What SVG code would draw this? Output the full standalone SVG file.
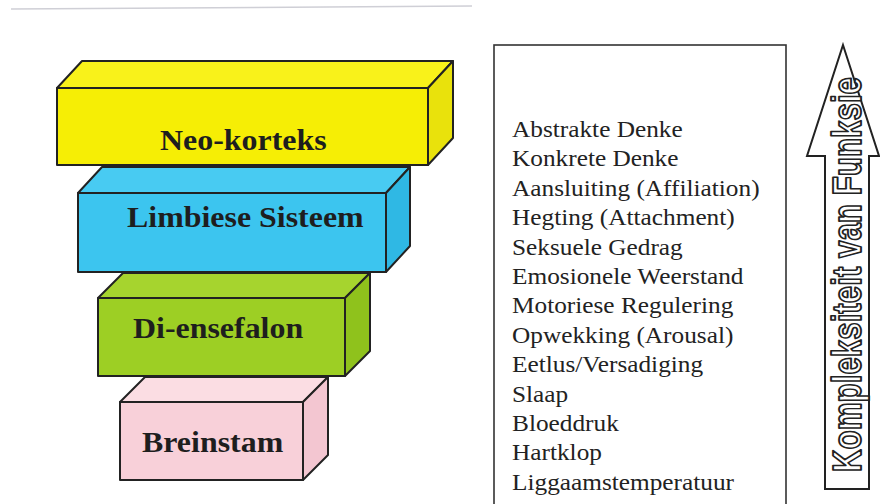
<svg xmlns="http://www.w3.org/2000/svg" width="880" height="504" viewBox="0 0 880 504">
<style>
.edge{stroke:#222;stroke-width:2;stroke-linejoin:round}
.lbl{font-weight:bold;font-size:28.5px;fill:#1e1e1e}
.li{font-size:22.6px;fill:#222}
.arr{font-weight:bold;font-size:32px;fill:#fff;stroke:#222;stroke-width:1.5;stroke-linejoin:round}
</style>
<rect width="880" height="504" fill="#fff"/>
<line x1="11" y1="9" x2="472" y2="6" stroke="#cfcfd6" stroke-width="1.5"/>

<g id="breinstam">
<polygon class="edge" fill="#fbdde3" points="120,402 145,377 328,377 303,402"/>
<polygon class="edge" fill="#f3c6d1" points="303,402 328,377 328,455 303,480"/>
<rect class="edge" fill="#f8d0d9" x="120" y="402" width="183" height="78"/>
<text class="lbl" font-family="Liberation Serif, DejaVu Serif, serif" transform="translate(142,452) scale(1.12,1)">Breinstam</text>
</g>

<g id="di-ensefalon">
<polygon class="edge" fill="#a6d42e" points="98,298 123,273 370,273 345,298"/>
<polygon class="edge" fill="#8fc21c" points="345,298 370,273 370,351 345,376"/>
<rect class="edge" fill="#9dcf24" x="98" y="298" width="247" height="78"/>
<text class="lbl" font-family="Liberation Serif, DejaVu Serif, serif" transform="translate(133,338) scale(1.12,1)">Di-ensefalon</text>
</g>

<g id="limbiese-sisteem">
<polygon class="edge" fill="#48cbf2" points="78,193 102,167 410,167 386,193"/>
<polygon class="edge" fill="#2fb8e4" points="386,193 410,167 410,246 386,272"/>
<rect class="edge" fill="#3cc5ef" x="78" y="193" width="308" height="79"/>
<text class="lbl" font-family="Liberation Serif, DejaVu Serif, serif" transform="translate(127,227) scale(1.12,1)">Limbiese Sisteem</text>
</g>

<g id="neo-korteks">
<polygon class="edge" fill="#f9f21a" points="57,88 82,61 453,61 428,88"/>
<polygon class="edge" fill="#e9e20c" points="428,88 453,61 453,138 428,165"/>
<rect class="edge" fill="#f6ee05" x="57" y="88" width="371" height="77"/>
<text class="lbl" font-family="Liberation Serif, DejaVu Serif, serif" transform="translate(160,150) scale(1.12,1)">Neo-korteks</text>
</g>

<g id="funksies" font-family="Liberation Serif, DejaVu Serif, serif">
<rect x="494" y="45" width="292" height="470" fill="#fff" stroke="#333" stroke-width="1.6"/>
<text class="li" transform="translate(512,137) scale(1.12,1)">Abstrakte Denke</text>
<text class="li" transform="translate(512,166.4) scale(1.12,1)">Konkrete Denke</text>
<text class="li" transform="translate(512,195.8) scale(1.12,1)">Aansluiting (Affiliation)</text>
<text class="li" transform="translate(512,225.2) scale(1.12,1)">Hegting (Attachment)</text>
<text class="li" transform="translate(512,254.6) scale(1.12,1)">Seksuele Gedrag</text>
<text class="li" transform="translate(512,284) scale(1.12,1)">Emosionele Weerstand</text>
<text class="li" transform="translate(512,313.4) scale(1.12,1)">Motoriese Regulering</text>
<text class="li" transform="translate(512,342.8) scale(1.12,1)">Opwekking (Arousal)</text>
<text class="li" transform="translate(512,372.2) scale(1.12,1)">Eetlus/Versadiging</text>
<text class="li" transform="translate(512,401.6) scale(1.12,1)">Slaap</text>
<text class="li" transform="translate(512,431) scale(1.12,1)">Bloeddruk</text>
<text class="li" transform="translate(512,460.4) scale(1.12,1)">Hartklop</text>
<text class="li" transform="translate(512,489.8) scale(1.12,1)">Liggaamstemperatuur</text>
</g>

<g id="kompleksiteit-pyl">
<polygon points="843,45 879,156 869,156 869,489 825,489 825,156 807,156" fill="#fff" stroke="#222" stroke-width="2" stroke-linejoin="miter"/>
<text class="arr" font-family="Liberation Sans, Arial, sans-serif" transform="translate(861,472) rotate(-90) scale(1,1.25)" textLength="395" lengthAdjust="spacingAndGlyphs">Kompleksiteit van Funksie</text>
</g>
</svg>
